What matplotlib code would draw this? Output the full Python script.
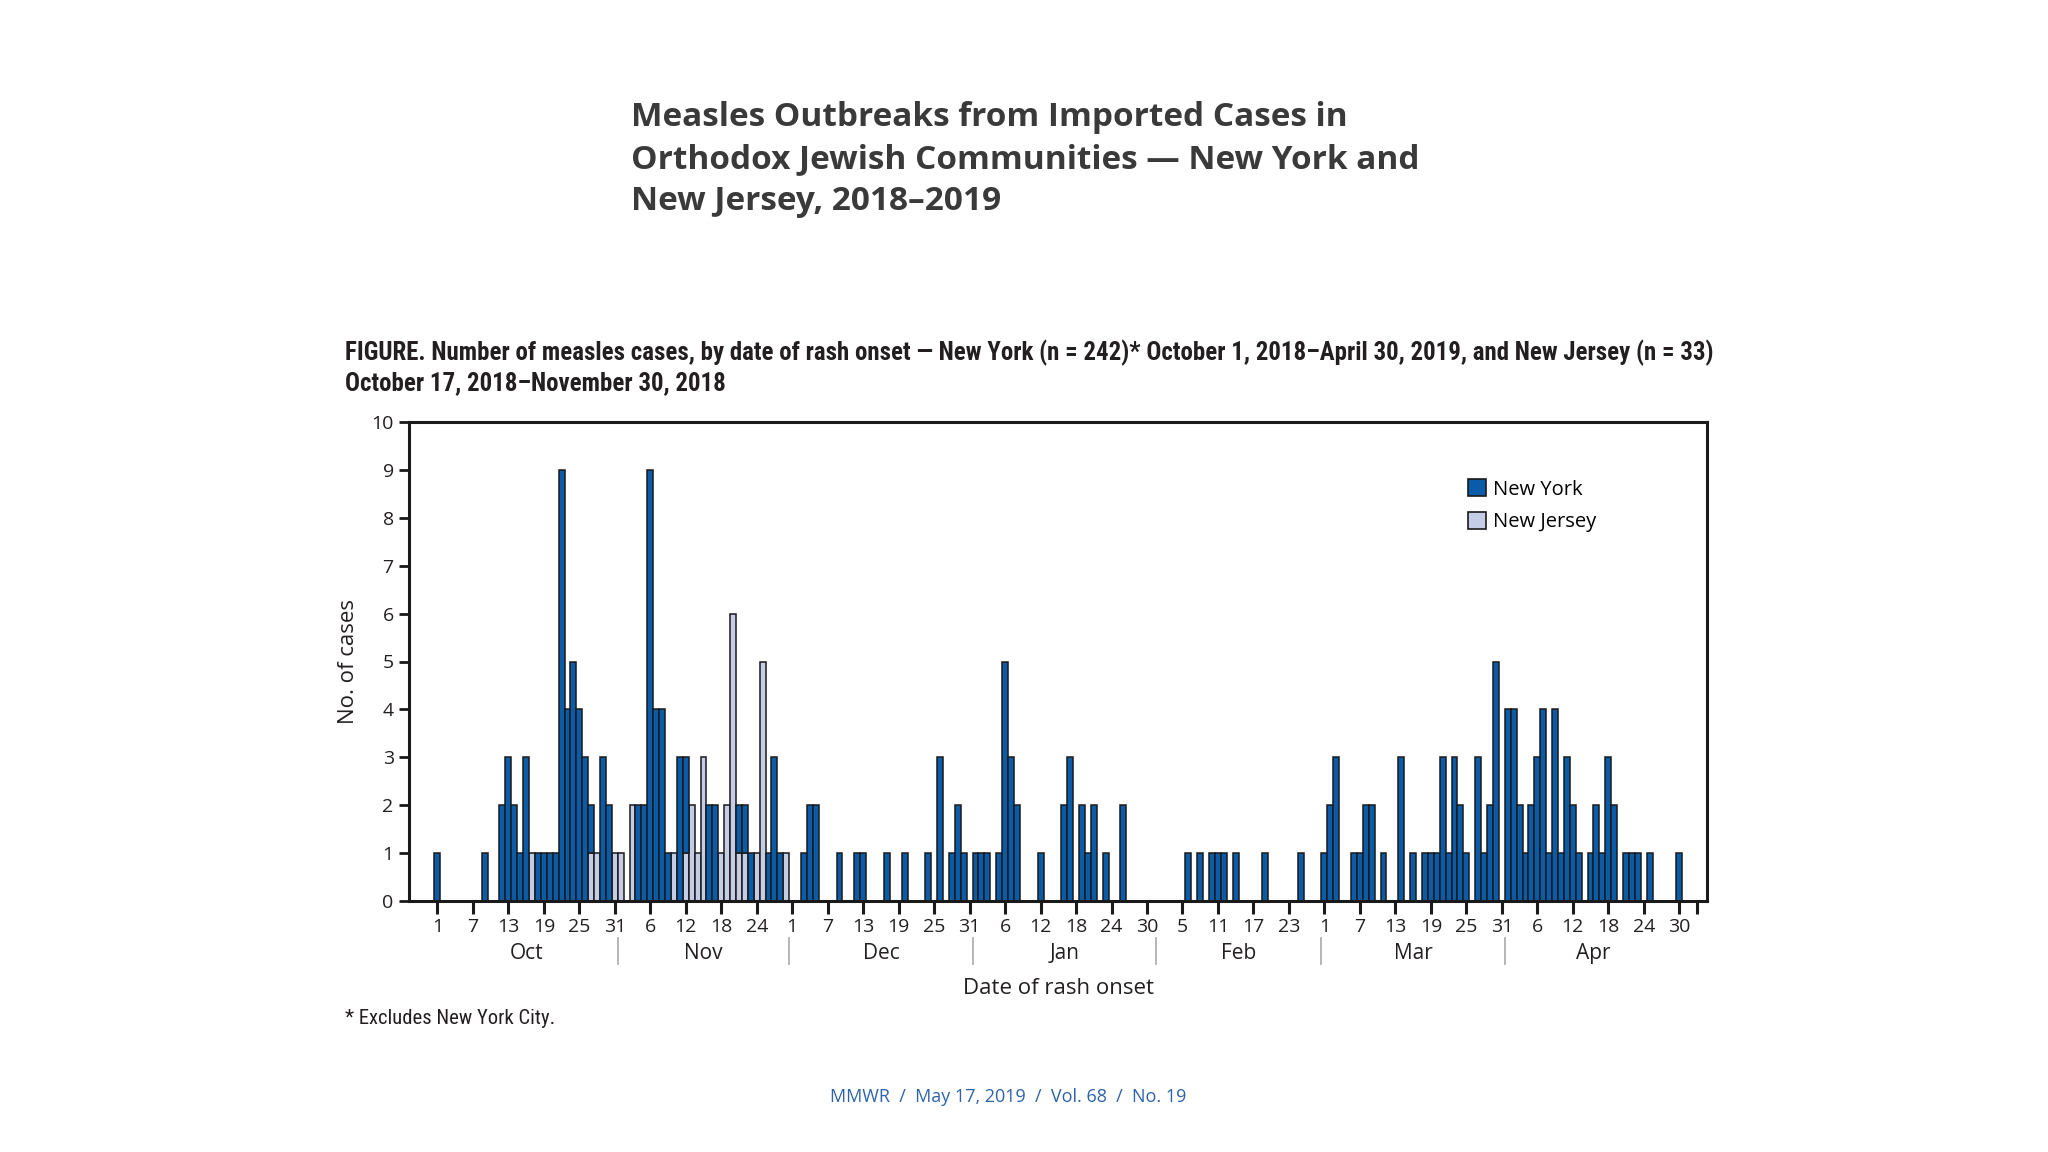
import matplotlib
matplotlib.use("Agg")
import matplotlib.pyplot as plt
import numpy as np
from matplotlib.patches import Patch

# ---------------- data (daily counts, one entry per bar, starting at the "1 Oct" tick) ----------------
ny_oct = [1,0,0,0,0,0,0,0,1,0, 0,2,3,2,1,3,0,1,1,1, 1,9,4,5,4,3,1,0,3,2, 0]
ny_nov = [0,0,0,2,2,9,4,4,1,0, 3,2,0,0,0,2,2,0,0,0, 1,1,1,0,0,1,3,1,0]
ny_dec = [0,0,1,2,2,0,0,0,1,0, 0,1,1,0,0,0,1,0,0,1, 0,0,0,1,0,3,0,1,2,1, 0]
ny_jan = [1,1,1,0,1,5,3,2,0,0, 0,1,0,0,0,2,3,0,2,1, 2,0,1,0,0,2,0,0,0,0, 0]
ny_feb = [0,0,0,0,0,1,0,1,0,1, 1,1,0,1,0,0,0,0,1,0, 0,0,0,0,1,0,0,0]
ny_mar = [1,2,3,0,0,1,1,2,2,0, 1,0,0,3,0,1,0,1,1,1, 3,1,3,2,1,0,3,1,2,5, 0]
ny_apr = [4,4,2,1,2,3,4,1,4,1, 3,2,1,0,1,2,1,3,2,0, 1,1,1,0,1,0,0,0,0,1]

nj_oct = [0,0,0,0,0,0,0,0,0,0, 0,0,0,0,0,0,1,0,0,0, 0,0,0,0,0,0,1,1,0,0, 1]
nj_nov = [1,0,2,0,0,0,0,0,0,1, 0,1,2,1,3,0,0,1,2,6, 1,1,0,1,5,0,0,0,1]

tick_labels = ["1","7","13","19","25","31","6","12","18","24",
               "1","7","13","19","25","31","6","12","18","24","30",
               "5","11","17","23","1","7","13","19","25","31",
               "6","12","18","24","30"]
months = ["Oct","Nov","Dec","Jan","Feb","Mar","Apr"]

ny = np.array(ny_oct + ny_nov + ny_dec + ny_jan + ny_feb + ny_mar + ny_apr)
nj = np.zeros_like(ny)
nj[:len(nj_oct) + len(nj_nov)] = nj_oct + nj_nov
month_lengths = [len(ny_oct), len(ny_nov), len(ny_dec), len(ny_jan),
                 len(ny_feb), len(ny_mar), len(ny_apr)]

NY_COLOR = "#0B5CA8"
NJ_COLOR = "#C4CCE6"
TEXT = "#231F20"
NARROW = ["Roboto Condensed", "Liberation Sans Narrow", "Roboto", "DejaVu Sans"]

fig = plt.figure(figsize=(20.48, 11.52), dpi=100)
ax = fig.add_axes([409/2048, 1-901/1152, (1707-409)/2048, (901-422)/1152])

x = np.arange(len(ny))
m_nj = nj > 0
ax.bar(x[m_nj], nj[m_nj], width=1.0, color=NJ_COLOR, edgecolor="#1a1a1a",
       linewidth=1.1, zorder=2)
m_ny = ny > 0
ax.bar(x[m_ny], ny[m_ny], width=1.0, bottom=nj[m_ny], color=NY_COLOR,
       edgecolor="#1a1a1a", linewidth=1.1, zorder=2)

ax.set_xlim(-4.8, 214.7)
ax.set_ylim(0, 10)
for s in ax.spines.values():
    s.set_linewidth(2.2)
    s.set_color("#1a1a1a")

ticks = np.arange(0, 6*len(tick_labels), 6)
ax.set_xticks(list(ticks) + [213])
ax.set_xticklabels(tick_labels + [""], fontsize=14, family="Open Sans", color=TEXT)
ax.tick_params(axis="x", direction="out", length=9, width=2.2, pad=3, color="#1a1a1a")
ax.set_yticks(range(0, 11))
ax.set_yticklabels([str(v) for v in range(11)], fontsize=14, family="Open Sans", color=TEXT)
ax.tick_params(axis="y", direction="out", length=7, width=2.0, pad=4, color="#1a1a1a")
ax.set_ylabel("No. of cases", fontsize=16, family="Open Sans", color=TEXT, labelpad=9)

# month labels and separators
edges = np.concatenate([[0], np.cumsum(month_lengths)]) - 0.5
for i, mname in enumerate(months):
    c = (edges[i] + edges[i+1]) / 2
    ax.text(c, -1.1, mname, ha="center", va="center", fontsize=15,
            family="Open Sans", color=TEXT, clip_on=False)
for e in edges[1:-1]:
    ax.plot([e, e], [-0.78, -1.32], color="#b0b0b0", lw=1.3, clip_on=False)
ax.text(105, -1.83, "Date of rash onset", ha="center", va="center", fontsize=16,
        family="Open Sans", color=TEXT, clip_on=False)

handles = [Patch(facecolor=NY_COLOR, edgecolor="#1a1a1a", linewidth=1.2, label="New York"),
           Patch(facecolor=NJ_COLOR, edgecolor="#1a1a1a", linewidth=1.2, label="New Jersey")]
ax.legend(handles=handles, loc="upper left", bbox_to_anchor=(0.802, 0.918),
          frameon=False, handlelength=0.9, handleheight=0.9,
          handletextpad=0.35, labelspacing=0.6, prop={"family": "Open Sans", "size": 14.5})

# texts
fig.text(631/2048, 1-101/1152,
         "Measles Outbreaks from Imported Cases in\nOrthodox Jewish Communities \u2014 New York and\nNew Jersey, 2018\u20132019",
         ha="left", va="top", fontsize=24, fontweight="bold", family="Open Sans",
         color="#3a3a3a", linespacing=1.36)

renderer = fig.canvas.get_renderer()

def fit_text(xp, yp, s, target_w, size, **kw):
    t = fig.text(xp, yp, s, fontsize=size, **kw)
    w = t.get_window_extent(renderer=renderer).width
    t.set_fontsize(size * target_w / w)
    return t

cap1 = fit_text(345/2048, 1-353/1152,
                "FIGURE. Number of measles cases, by date of rash onset \u2014 New York (n = 242)* October 1, 2018\u2013April 30, 2019, and New Jersey (n = 33)",
                1366, 16, ha="left", va="center", fontweight="bold", family=NARROW, color=TEXT)
fig.text(345/2048, 1-383/1152, "October 17, 2018\u2013November 30, 2018",
         ha="left", va="center", fontsize=cap1.get_fontsize(), fontweight="bold",
         family=NARROW, color=TEXT)
fit_text(345/2048, 1-1019/1152, "* Excludes New York City.", 210, 15,
         ha="left", va="center", family=NARROW, color=TEXT)
fig.text(1008/2048, 1-1097/1152, "MMWR  /  May 17, 2019  /  Vol. 68  /  No. 19",
         ha="center", va="center", fontsize=13, family="Open Sans", color="#2E63A8")

fig.savefig("out.png", dpi=100, facecolor="white")
